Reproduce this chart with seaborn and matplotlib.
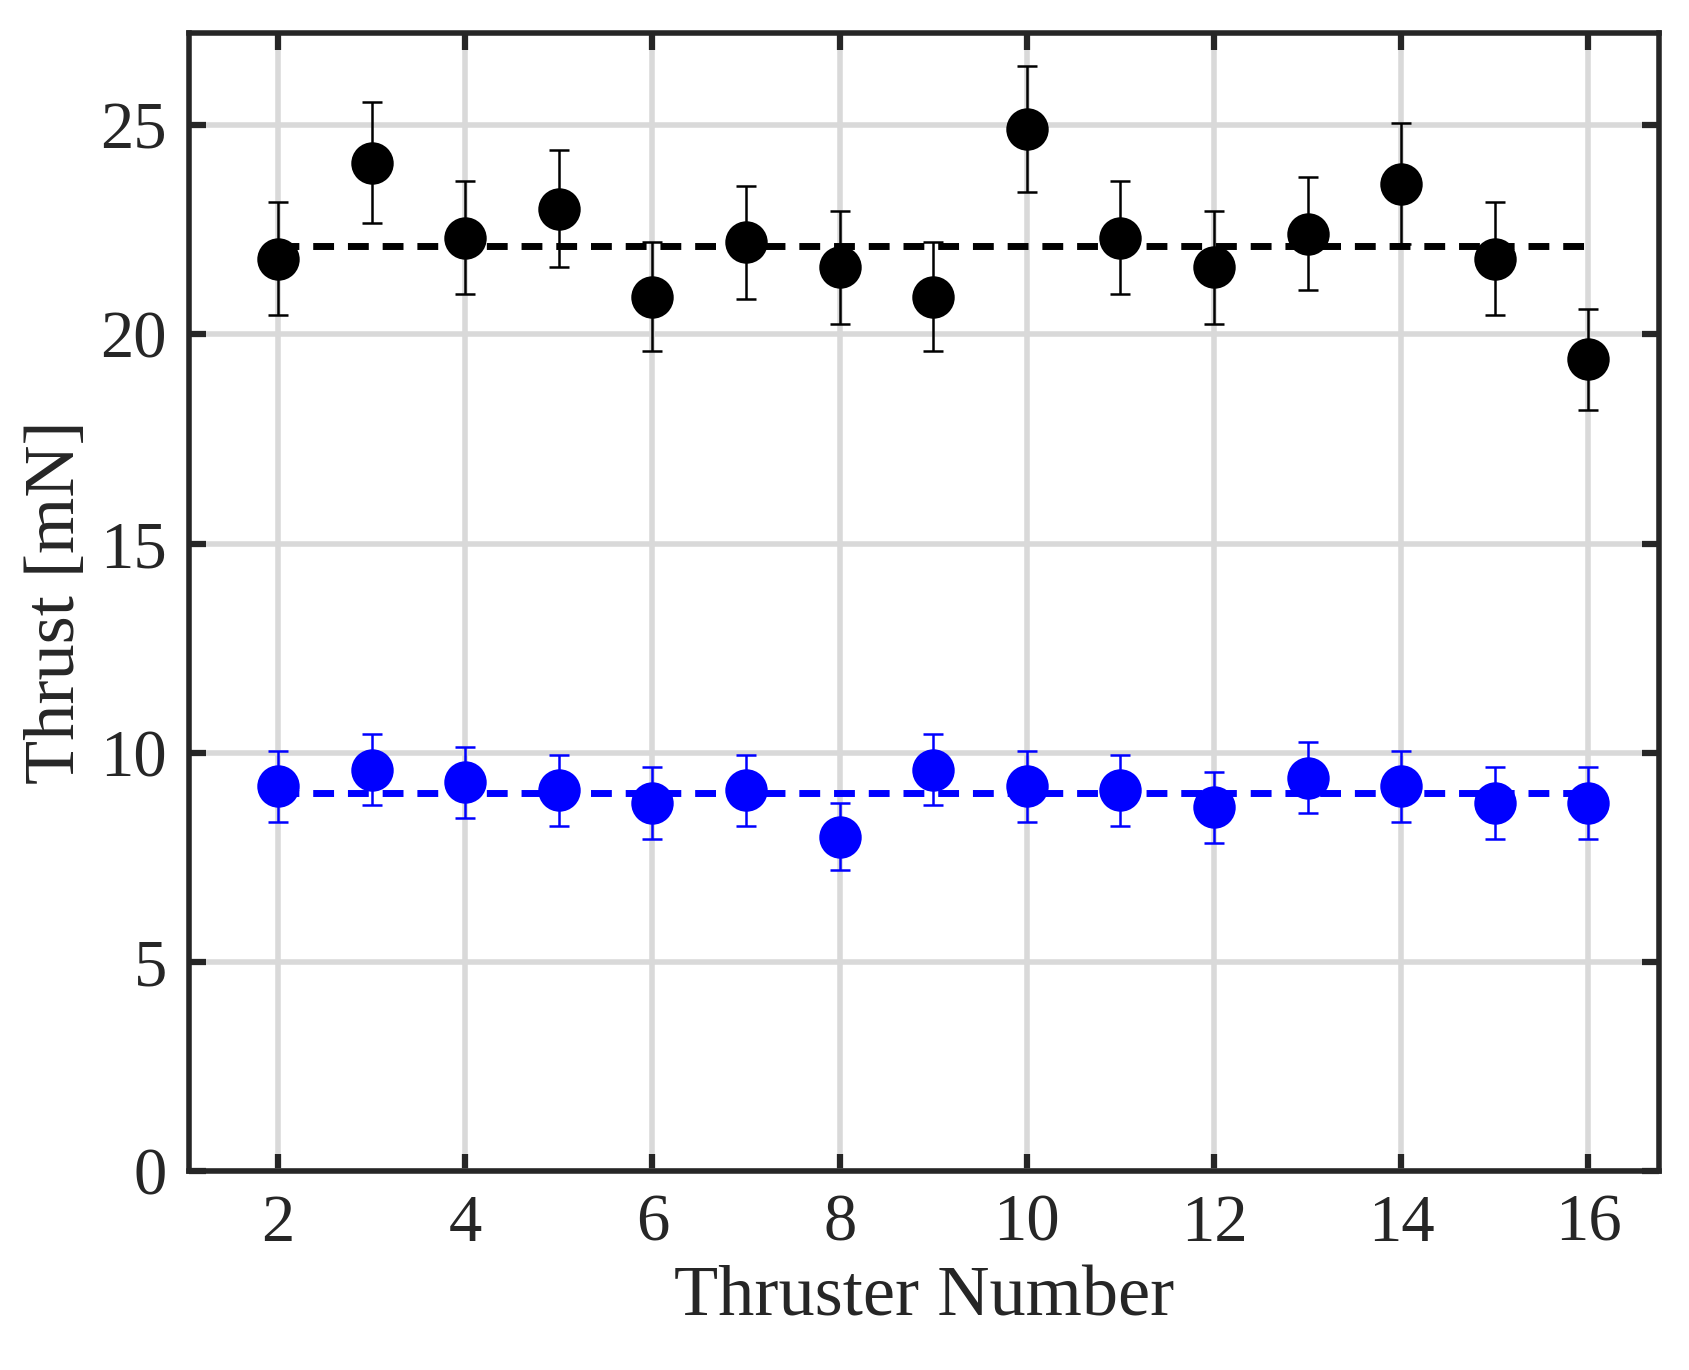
import matplotlib
matplotlib.use("Agg")
import matplotlib.pyplot as plt
import seaborn as sns
import numpy as np

thrusters = list(range(2, 17))
high = [21.8, 24.1, 22.3, 23.0, 20.9, 22.2, 21.6, 20.9, 24.9, 22.3, 21.6, 22.4, 23.6, 21.8, 19.4]
high_err = [1.35, 1.45, 1.35, 1.4, 1.3, 1.35, 1.35, 1.3, 1.5, 1.35, 1.35, 1.35, 1.45, 1.35, 1.2]
low = [9.2, 9.6, 9.3, 9.1, 8.8, 9.1, 8.0, 9.6, 9.2, 9.1, 8.7, 9.4, 9.2, 8.8, 8.8]
low_err = [0.85, 0.85, 0.85, 0.85, 0.85, 0.85, 0.8, 0.85, 0.85, 0.85, 0.85, 0.85, 0.85, 0.85, 0.85]
high_mean = 22.1
low_mean = 9.05

sns.set_style("white")
plt.rcParams['font.family'] = ['Liberation Serif', 'DejaVu Serif']
fig = plt.figure(figsize=(16.89, 13.70), dpi=100)
ax = fig.add_axes([0.112, 0.145, 0.870, 0.831])

for y, e, c in [(high, high_err, 'black'), (low, low_err, 'blue')]:
    ax.errorbar(thrusters, y, yerr=e, fmt='none', ecolor=c, elinewidth=1.8, capsize=7, capthick=1.8, zorder=3)
    sns.scatterplot(x=thrusters, y=y, color=c, s=800, edgecolor=c, ax=ax, zorder=4, legend=False)
ax.plot([2, 16], [high_mean, high_mean], '--', color='black', lw=5, dashes=(3, 2), zorder=2)
ax.plot([2, 16], [low_mean, low_mean], '--', color='blue', lw=5, dashes=(3, 2), zorder=2)

ax.set_xlim(1.05, 16.75)
ax.set_ylim(0, 27.2)
ax.set_xticks(range(2, 17, 2))
ax.set_yticks(range(0, 26, 5))
ax.grid(True, color='#d9d9d9', lw=4)
ax.set_axisbelow(True)
for s in ax.spines.values():
    s.set_linewidth(4)
    s.set_color('#262626')
ax.tick_params(direction='in', length=12, width=4.5, labelsize=48, colors='#262626',
               top=True, right=True, bottom=True, left=True, pad=16)
ax.set_xlabel('Thruster Number', fontsize=52, color='#262626', labelpad=8)
ax.set_ylabel('Thrust [mN]', fontsize=52, color='#262626', labelpad=8)
fig.savefig('out.png', dpi=100)
